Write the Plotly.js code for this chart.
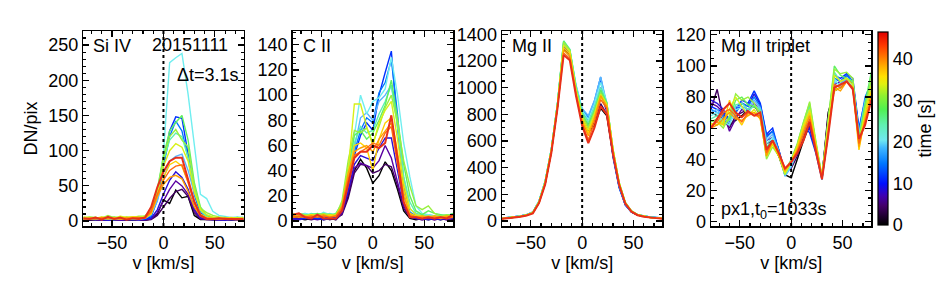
<!DOCTYPE html>
<html><head><meta charset="utf-8">
<script src="https://cdn.plot.ly/plotly-3.0.1.min.js"></script>
<style>body{margin:0;background:#fff}#c{width:943px;height:293px}</style>
</head><body><div id="c"></div>
<script>
// velocity grid (km/s)
const vel = [-78,-72,-66,-60,-54,-48,-42,-36,-30,-24,-18,-12,-6,0,6,12,18,24,30,36,42,48,54,60,66,72,78];
// times (s), dt = 3.1 s
const times = [0,3.1,6.2,9.3,12.4,15.5,18.6,21.7,24.8,27.9,31.0,34.1,37.2,40.3,43.4,46.5];

const siiv = [
 [2,1,2,1,2,1,2,1,2,1,1,3,10,30,25,44,33,35,8,2,2,1,2,1,2,1,2],
 [3,2,1,2,1,2,1,2,1,2,1,2,8,20,32,42,45,35,12,3,2,1,1,2,1,2,1],
 [2,3,2,1,3,2,1,2,3,1,2,3,12,28,45,57,50,38,15,4,2,2,1,2,2,1,2],
 [3,2,3,2,1,2,2,3,2,2,2,4,16,38,58,70,62,45,18,5,3,2,2,1,3,2,2],
 [4,3,2,3,2,4,3,2,3,2,3,6,30,80,128,148,146,95,40,12,5,3,3,2,3,2,3],
 [3,4,3,2,3,2,4,3,2,3,4,8,32,78,120,142,128,90,38,10,5,3,2,3,2,3,4],
 [2,3,2,4,3,2,3,4,3,2,4,9,28,60,85,92,95,72,40,18,8,4,3,4,3,4,5],
 [4,5,4,3,5,4,3,4,5,4,6,10,35,95,225,232,238,180,105,38,32,14,8,6,5,6,5],
 [3,4,5,3,4,3,5,4,3,4,6,12,40,85,115,125,120,90,45,15,6,4,5,4,3,5,4],
 [5,4,3,5,4,6,4,3,5,4,7,15,45,92,128,140,150,115,55,20,8,5,4,5,4,3,4],
 [4,6,5,4,8,5,4,6,5,7,7,14,42,90,120,130,115,105,50,18,12,8,6,5,4,5,3],
 [6,5,4,6,5,4,7,5,6,5,7,13,38,78,100,110,105,85,42,16,9,6,5,4,5,4,5],
 [3,4,5,3,4,5,3,4,6,5,4,10,34,62,80,85,78,55,28,10,5,4,3,4,3,4,3],
 [4,3,4,5,3,4,3,5,4,3,5,12,35,52,62,65,60,42,20,7,4,3,4,3,4,3,4],
 [3,4,3,4,5,3,4,3,4,5,4,14,38,58,72,78,80,55,25,8,4,3,3,4,3,2,3],
 [4,3,5,2,6,3,5,2,4,3,5,20,48,70,85,90,90,60,28,8,3,3,4,3,3,3,3]
];
const cii = [
 [3,2,1,2,3,1,2,1,6,20,40,49,42,30,36,47,40,25,8,2,1,2,1,2,1,2,1],
 [2,3,2,1,2,3,1,2,5,18,38,45,44,38,40,45,43,28,10,3,2,1,2,1,2,1,2],
 [1,2,3,2,1,2,3,1,6,22,42,46,44,42,48,60,50,32,12,3,2,1,2,1,2,1,2],
 [2,1,2,3,2,1,2,3,7,24,45,52,50,48,58,66,66,40,14,4,2,2,1,2,1,3,2],
 [4,3,2,3,2,3,2,3,9,28,52,68,78,72,100,118,135,75,25,6,3,2,3,2,3,2,4],
 [5,4,3,4,3,4,5,3,10,30,55,72,82,78,102,110,128,85,28,7,4,3,4,3,4,3,3],
 [4,5,6,4,5,6,4,5,12,32,58,82,86,80,95,100,108,80,35,10,5,4,5,4,3,4,5],
 [5,4,6,5,4,7,5,4,13,36,70,100,85,95,98,105,130,100,62,35,12,6,5,4,5,4,6],
 [4,5,4,6,5,4,6,5,12,34,62,75,70,72,85,95,108,75,35,15,6,5,4,3,4,5,4],
 [6,5,4,5,6,5,4,6,14,42,68,72,65,70,80,92,112,82,45,20,8,5,8,6,5,4,6],
 [5,6,5,4,5,6,5,4,16,48,72,70,74,62,75,90,100,78,48,28,12,9,12,6,4,5,4],
 [4,5,4,5,4,5,4,5,12,40,93,93,75,60,78,88,95,65,30,10,5,4,3,4,3,4,3],
 [3,4,3,5,4,3,5,4,11,36,60,62,58,40,65,78,82,55,25,6,4,3,4,3,2,3,4],
 [4,3,4,3,4,5,3,4,12,38,55,58,60,55,65,72,78,50,20,5,3,4,3,4,3,4,3],
 [3,4,3,4,3,4,3,4,10,33,52,55,58,62,60,70,75,45,15,4,3,2,3,2,3,2,3],
 [5,6,3,2,5,2,2,2,8,28,50,55,55,60,58,62,84,50,15,3,3,2,3,2,3,2,5]
];
const mgii = [
 [18,22,28,35,45,62,140,280,520,860,1290,1240,960,740,665,720,845,790,500,270,130,70,45,35,28,24,20],
 [20,24,30,36,46,64,142,285,525,865,1300,1250,970,755,680,740,880,800,500,265,128,70,46,36,29,25,21],
 [19,23,29,37,45,63,140,282,522,862,1300,1255,975,770,700,790,960,820,495,260,125,68,45,35,28,24,21],
 [20,25,31,38,47,65,145,290,530,870,1320,1260,990,790,720,830,1000,840,500,262,124,68,44,34,28,26,22],
 [22,26,32,38,48,66,146,292,532,872,1320,1265,1000,820,760,880,1060,850,480,250,120,66,45,36,30,27,24],
 [21,25,31,37,47,65,148,295,535,875,1330,1270,1010,835,780,900,1080,860,490,255,122,67,46,36,30,26,23],
 [22,26,32,39,49,68,150,300,540,880,1340,1280,1020,845,790,905,1080,880,510,265,128,70,47,37,31,27,24],
 [21,25,31,38,48,67,150,300,540,885,1350,1290,1020,830,760,880,1040,890,530,280,135,74,48,37,30,26,22],
 [20,24,30,37,47,66,148,298,538,882,1345,1285,1010,815,740,850,1000,890,535,285,138,75,48,36,29,25,22],
 [20,24,30,37,46,65,146,296,536,880,1350,1285,1000,800,720,830,980,885,540,290,140,76,48,36,29,25,21],
 [19,23,29,36,46,64,144,294,534,878,1340,1280,990,790,700,815,960,880,540,290,140,76,47,35,28,24,21],
 [19,23,29,36,45,63,142,290,530,872,1320,1270,980,775,680,800,950,875,535,285,138,75,46,35,28,24,20],
 [18,22,28,35,44,62,140,286,525,866,1300,1255,970,760,660,780,930,865,530,282,135,73,45,34,27,23,20],
 [18,22,28,35,44,61,138,282,520,860,1280,1240,960,745,640,770,940,860,525,280,134,72,45,34,27,23,19],
 [17,21,27,34,43,60,136,278,515,852,1260,1220,950,730,610,740,910,845,515,275,132,71,44,33,26,22,18],
 [17,20,26,33,42,58,134,275,510,845,1245,1205,940,715,585,700,860,800,500,270,130,70,44,33,26,22,18]
];
const trip = [
 [70,68,66,62,65,68,72,74,70,48,50,42,30,28,40,52,62,48,28,70,84,86,90,86,55,70,82],
 [72,85,66,60,68,70,72,75,68,50,52,42,32,34,42,55,62,46,29,68,86,88,92,88,56,72,84],
 [76,74,70,58,66,72,70,76,72,52,54,44,33,36,44,56,60,45,29,60,88,90,92,88,57,74,85],
 [78,76,72,64,70,76,74,82,75,55,58,46,32,38,46,58,60,47,28,58,92,90,94,90,58,76,86],
 [74,72,70,66,72,78,76,84,76,56,60,45,31,37,47,62,57,44,27,56,94,92,95,92,60,78,88],
 [72,70,68,65,70,76,74,80,74,54,58,46,30,36,46,60,64,46,27,58,92,90,94,90,58,80,89],
 [70,72,66,63,74,74,72,78,73,52,56,45,29,35,45,58,70,48,27,60,90,88,92,90,56,78,88],
 [68,70,64,62,72,73,70,75,72,50,54,44,30,36,46,60,72,49,28,62,92,86,90,88,55,76,86],
 [66,68,63,65,75,76,72,74,72,48,52,44,31,38,48,62,74,50,28,64,96,90,92,90,54,74,84],
 [64,66,62,66,78,80,75,74,70,42,50,42,32,40,50,64,76,50,29,64,100,94,92,90,53,76,96],
 [65,64,60,68,82,78,80,76,68,40,48,42,30,38,50,64,77,52,29,65,98,95,96,92,52,72,92],
 [63,62,64,72,80,74,68,72,66,42,50,43,31,38,48,62,72,50,28,62,94,90,92,88,50,70,88],
 [62,64,62,78,68,62,70,70,66,44,50,42,32,39,48,60,70,49,28,60,84,86,90,86,46,68,84],
 [60,62,66,70,66,65,68,70,66,42,52,42,33,38,46,58,68,48,28,58,86,84,90,86,48,66,80],
 [61,64,70,72,68,64,70,68,68,44,52,44,34,38,45,56,66,47,28,56,88,86,90,86,50,64,78],
 [60,66,72,76,70,67,71,68,70,46,52,44,34,38,44,52,64,45,27,55,86,88,90,85,53,62,78]
];
const panelNames = ['Si IV','C II','Mg II','Mg II triplet'];
const panelData = [siiv, cii, mgii, trip];
const yRanges = [[-7,270],[-4,151],[-37,1425],[-3,122.5]];
const yDticks = [50,20,200,20];
const yMinor = [10,5,50,5];
const cbTicks = [0,10,20,30,40];

const lineColors = ['#000000','#40005f','#5a00a0','#2a10d8','#0030ff','#0078ff','#58b4ff','#70eef0',
  '#5cf0b0','#60f060','#98f040','#d8f018','#ffd000','#ffa000','#ff6a10','#e8301a'];
const cscale = [[0,'#000000'],[0.1,'#44006a'],[0.15,'#4000b0'],[0.215,'#0010ff'],[0.32,'#0078ff'],
  [0.4,'#40b8ff'],[0.44,'#70e8f0'],[0.52,'#60f0b0'],[0.6,'#50f050'],[0.67,'#90f030'],[0.73,'#e0f010'],
  [0.77,'#ffe000'],[0.82,'#ffb000'],[0.87,'#ff7800'],[0.93,'#ff3800'],[1,'#e00000']];

const W = 943, H = 293;
const lefts = [83.3, 292.7, 502, 711], pw = 160.3;
const pTop = 31, pBot = 226;
const FONT = 'Liberation Sans, Arial, Helvetica, sans-serif';
const fs = 18;

const traces = [];
const layout = {
  width: W, height: H, margin: {l:0, r:0, t:0, b:0},
  paper_bgcolor: '#fff', plot_bgcolor: '#fff', showlegend: false,
  font: {family: FONT, size: fs, color: '#000'},
  shapes: [], annotations: []
};
for (let p = 0; p < 4; p++) {
  const xa = p === 0 ? 'x' : 'x' + (p + 1);
  const ya = p === 0 ? 'y' : 'y' + (p + 1);
  const arr = panelData[p];
  for (let k = 0; k < arr.length; k++) {
    traces.push({x: vel, y: arr[k], xaxis: xa, yaxis: ya, type: 'scatter', mode: 'lines',
      line: {color: lineColors[k], width: k === 15 ? 2 : 1.4}, hoverinfo: 'skip'});
  }
  const common = {showline: true, linecolor: '#000', linewidth: 1.5, mirror: 'allticks',
    ticks: 'inside', ticklen: 6, tickwidth: 1.2, tickcolor: '#000', showgrid: false, zeroline: false,
    tickfont: {family: FONT, size: fs}};
  layout['xaxis' + (p === 0 ? '' : p + 1)] = Object.assign({}, common, {
    domain: [lefts[p] / W, (lefts[p] + pw) / W], anchor: ya, range: [-78, 78],
    tick0: 0, dtick: 50, minor: {ticks: 'inside', dtick: 10, ticklen: 3, tickcolor: '#000'},
    title: {text: 'v [km/s]', font: {family: FONT, size: fs}, standoff: 4}
  });
  const yax = Object.assign({}, common, {
    domain: [(H - pBot) / H, (H - pTop) / H], anchor: xa, range: yRanges[p],
    tick0: 0, dtick: yDticks[p], minor: {ticks: 'inside', dtick: yMinor[p], ticklen: 3, tickcolor: '#000'}
  });
  if (p === 0) yax.title = {text: 'DN/pix', font: {family: FONT, size: fs}, standoff: 6};
  layout['yaxis' + (p === 0 ? '' : p + 1)] = yax;
  layout.shapes.push({type: 'line', xref: xa, yref: ya + ' domain', x0: 0, x1: 0, y0: 0, y1: 1,
    line: {color: '#000', width: 2, dash: 'dot'}, layer: 'above'});
  layout.annotations.push({xref: 'paper', yref: 'paper', x: (lefts[p] + 8) / W, y: 1 - 46 / H,
    xanchor: 'left', yanchor: 'middle', text: panelNames[p], showarrow: false,
    font: {family: FONT, size: fs}});
}
layout.annotations.push({xref: 'paper', yref: 'paper', x: 190 / W, y: 1 - 45 / H, xanchor: 'center', yanchor: 'middle',
  text: '20151111', showarrow: false, font: {family: FONT, size: fs}});
layout.annotations.push({xref: 'paper', yref: 'paper', x: 241 / W, y: 1 - 75 / H, xanchor: 'right', yanchor: 'middle',
  text: 'Δt=3.1s', showarrow: false, font: {family: FONT, size: fs}});
layout.annotations.push({xref: 'paper', yref: 'paper', x: 719 / W, y: 1 - 210 / H, xanchor: 'left', yanchor: 'middle',
  text: 'px1,t<sub>0</sub>=1033s', showarrow: false, font: {family: FONT, size: fs}});

// colorbar via a hidden marker trace
traces.push({x: [0], y: [-1e5], xaxis: 'x4', yaxis: 'y4', type: 'scatter', mode: 'markers', hoverinfo: 'skip',
  marker: {size: 1, color: [0], cmin: 0, cmax: 46.5, colorscale: cscale, showscale: true,
    colorbar: {x: 878 / W, xanchor: 'left', xref: 'paper', y: 1 - 128.5 / H, yanchor: 'middle',
      len: 193 / H, lenmode: 'fraction', thickness: 10, thicknessmode: 'pixels', xpad: 0, ypad: 0,
      outlinewidth: 1.2, outlinecolor: '#000', tickvals: cbTicks, ticks: '', ticklabelpad: 4,
      tickfont: {family: FONT, size: fs}, title: {text: 'time [s]', side: 'right', font: {family: FONT, size: fs}}}}});

Plotly.newPlot('c', traces, layout, {staticPlot: true, displayModeBar: false});
</script>
</body></html>
